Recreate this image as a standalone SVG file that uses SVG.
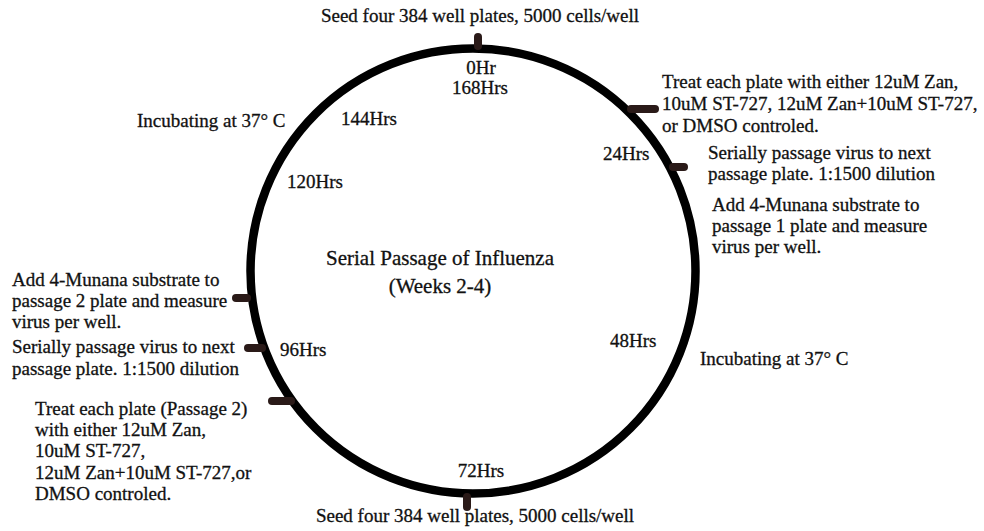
<svg xmlns="http://www.w3.org/2000/svg" width="984" height="531" viewBox="0 0 984 531">
<style>
text{font-family:"Liberation Serif","Times New Roman",serif;font-size:19px;fill:#111;stroke:#111;stroke-width:0.3}
.title{font-size:21px}
.tick{stroke:#2a1a18;stroke-width:8;stroke-linecap:round;fill:none}
</style>
<rect width="984" height="531" fill="#fff"/>
<g id="cycle">
<circle cx="473" cy="271" r="222.5" fill="none" stroke="#000" stroke-width="8.5"/>
</g>
<g id="connectors">
<line class="tick" x1="478" y1="37" x2="478" y2="46"/>
<line class="tick" x1="631" y1="109" x2="655" y2="109"/>
<line class="tick" x1="673" y1="167" x2="684" y2="167"/>
<line class="tick" x1="236" y1="298" x2="247" y2="298"/>
<line class="tick" x1="248" y1="348" x2="262" y2="348"/>
<line class="tick" x1="272" y1="401" x2="291" y2="401"/>
<line class="tick" x1="467" y1="497" x2="467" y2="507"/>
</g>
<g id="title">
<text class="title" x="440" y="265" text-anchor="middle">Serial Passage of Influenza</text>
<text class="title" x="440" y="293" text-anchor="middle">(Weeks 2-4)</text>
</g>
<g id="times">
<text x="481" y="74" text-anchor="middle">0Hr</text>
<text x="480" y="94" text-anchor="middle">168Hrs</text>
<text x="603" y="160">24Hrs</text>
<text x="610" y="347">48Hrs</text>
<text x="481" y="477" text-anchor="middle">72Hrs</text>
<text x="280" y="356">96Hrs</text>
<text x="287" y="188">120Hrs</text>
<text x="341" y="125">144Hrs</text>
</g>
<g id="seed-top"><text x="480" y="22" text-anchor="middle">Seed four 384 well plates, 5000 cells/well</text></g>
<g id="treat-1">
<text x="662" y="88">Treat each plate with either 12uM Zan,</text>
<text x="662" y="110">10uM ST-727, 12uM Zan+10uM ST-727,</text>
<text x="662" y="132">or DMSO controled.</text>
</g>
<g id="passage-1">
<text x="708" y="159">Serially passage virus to next</text>
<text x="708" y="180">passage plate. 1:1500 dilution</text>
</g>
<g id="measure-1">
<text x="712" y="211">Add 4-Munana substrate to</text>
<text x="712" y="232">passage 1 plate and measure</text>
<text x="712" y="253">virus per well.</text>
</g>
<g id="incubate-2"><text x="700" y="365">Incubating at 37° C</text></g>
<g id="seed-bottom"><text x="475" y="522" text-anchor="middle">Seed four 384 well plates, 5000 cells/well</text></g>
<g id="treat-2">
<text x="35" y="415">Treat each plate (Passage 2)</text>
<text x="35" y="436">with either 12uM Zan,</text>
<text x="35" y="457">10uM ST-727,</text>
<text x="35" y="479">12uM Zan+10uM ST-727,or</text>
<text x="35" y="500">DMSO controled.</text>
</g>
<g id="passage-2">
<text x="12" y="353">Serially passage virus to next</text>
<text x="12" y="375">passage plate. 1:1500 dilution</text>
</g>
<g id="measure-2">
<text x="12" y="286">Add 4-Munana substrate to</text>
<text x="12" y="307">passage 2 plate and measure</text>
<text x="12" y="328">virus per well.</text>
</g>
<g id="incubate-1"><text x="137" y="127">Incubating at 37° C</text></g>
</svg>
